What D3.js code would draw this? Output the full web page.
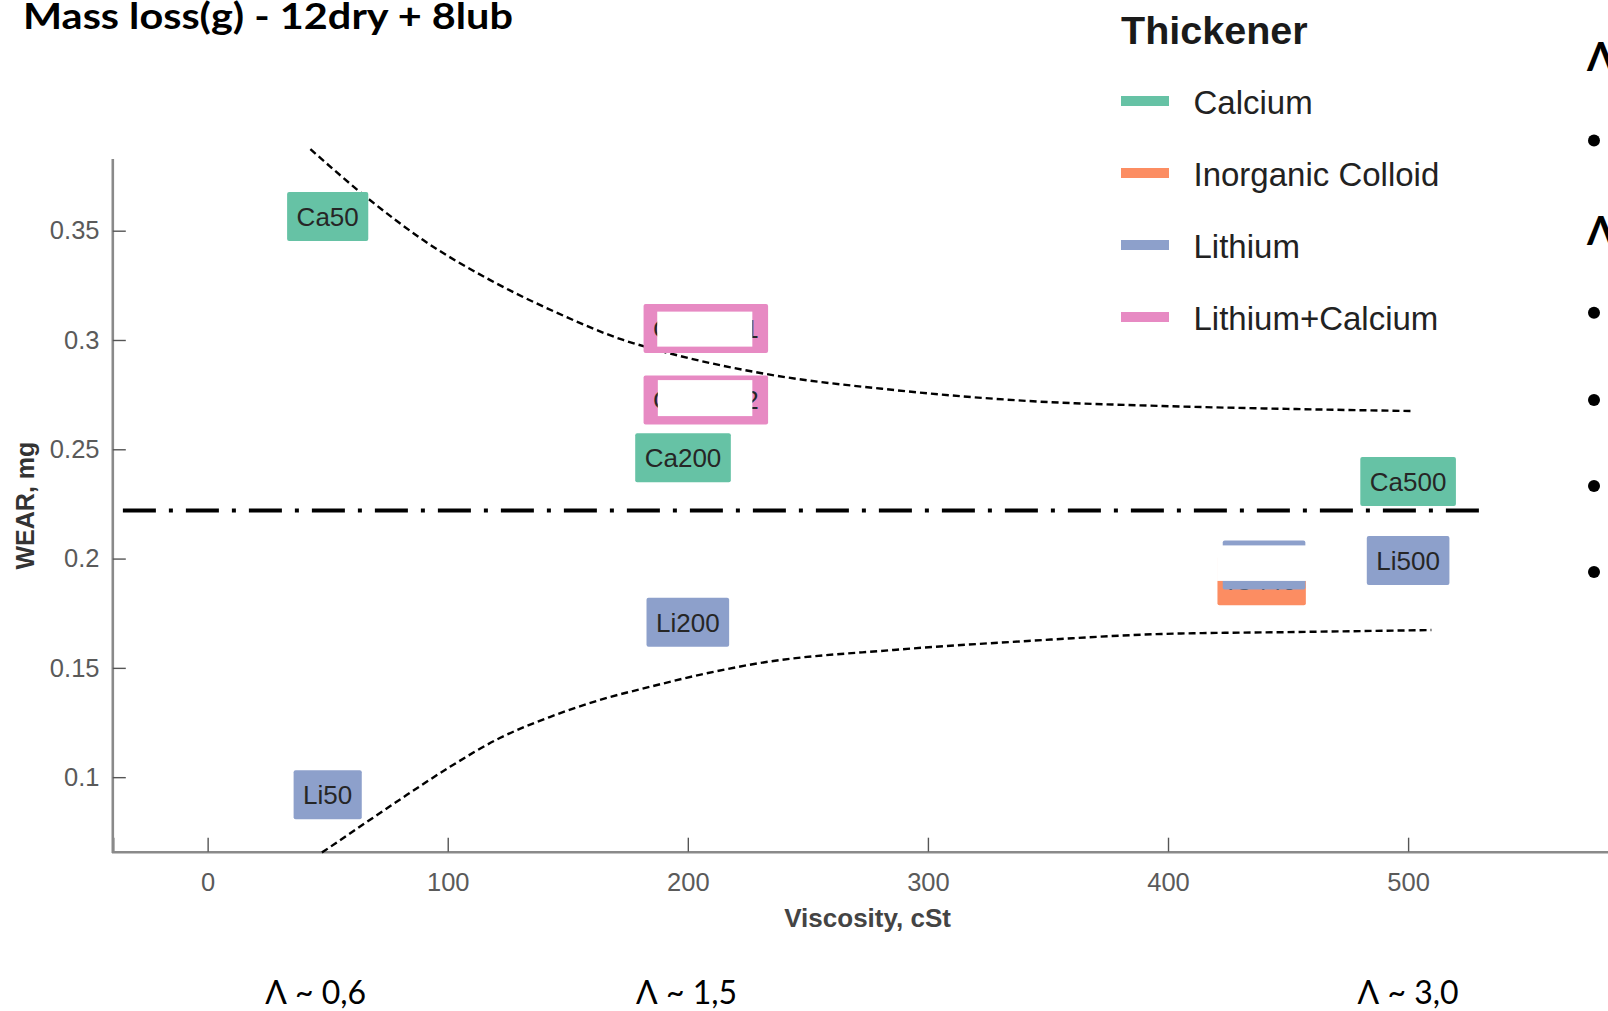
<!DOCTYPE html>
<html>
<head>
<meta charset="utf-8">
<script src="https://cdn.jsdelivr.net/npm/d3@7"></script>
<style>
  body { margin: 0; background: #fff; }
  svg { display: block; }
</style>
</head>
<body>
<svg id="chart" width="1608" height="1011"></svg>
<script>
// ---- data ----
const sampleNames = ["Ca50", "Li50", "CLi200-1", "CLi200-2", "Ca200", "Li200", "IC440", "Li440", "Ca500", "Li500"];
const sampleThickener = ["Calcium", "Lithium", "Lithium+Calcium", "Lithium+Calcium", "Calcium", "Lithium",
                         "Inorganic Colloid", "Lithium", "Calcium", "Lithium"];
const sampleViscosity = [50, 50, 207.5, 207.5, 198, 200, 439, 440, 500, 500];
const sampleWear = [0.3565, 0.092, 0.3052, 0.2725, 0.2461, 0.1709, 0.1898, 0.1971, 0.2353, 0.1991];

const thickeners = ["Calcium", "Inorganic Colloid", "Lithium", "Lithium+Calcium"];
const thickenerColors = ["#66c2a5", "#fc8d62", "#8da0cb", "#e78ac3"];

// upper and lower trend envelopes (viscosity, wear)
const upperVisc = [42.8, 66.5, 89.8, 117.7, 145.6, 173.1, 187.3, 230.2, 286.0, 341.7, 397.6, 453.4, 501.7];
const upperWear = [0.3873, 0.3650, 0.3457, 0.3274, 0.3124, 0.3000, 0.2954, 0.2849, 0.2771, 0.2721, 0.2698, 0.2684, 0.2675];
const lowerVisc = [47.6, 66.3, 83.0, 100.9, 121.7, 142.5, 163.3, 184.1, 204.9, 229.9, 285.7, 341.5, 397.3, 453.1, 509.7];
const lowerWear = [0.0655, 0.0795, 0.0919, 0.1047, 0.1179, 0.1275, 0.1353, 0.1413, 0.1468, 0.1522, 0.1582, 0.1623, 0.1655, 0.1664, 0.1673];

// reference wear level
const refWear = 0.222;
const refSpan = [-35.3, 534];

const xTicks = [0, 100, 200, 300, 400, 500];
const yTicks = [0.1, 0.15, 0.2, 0.25, 0.3, 0.35];
const yTickLabels = ["0.1", "0.15", "0.2", "0.25", "0.3", "0.35"];

const lambdaLabels = ["Λ ~ 0,6", "Λ ~ 1,5", "Λ ~ 3,0"];
const lambdaAt = [45, 199.5, 500];

// ---- layout ----
const svg = d3.select("#chart");
const x = d3.scaleLinear().domain([-39.5, 600]).range([112.8, 1648.2]);
const y = d3.scaleLinear().domain([0.0659, 0.3828]).range([851.7, 159]);
const color = d3.scaleOrdinal().domain(thickeners).range(thickenerColors);

const chartFont = "'Liberation Sans', Arial, Helvetica, sans-serif";
const slideFont = "Lato, 'Open Sans', sans-serif";

// title
svg.append("text")
  .attr("x", 23).attr("y", 29)
  .attr("font-family", slideFont).attr("font-weight", 700).attr("font-size", 36)
  .attr("textLength", 490).attr("lengthAdjust", "spacingAndGlyphs")
  .attr("fill", "#000")
  .text("Mass loss(g) - 12dry + 8lub");

// axes
const axisColor = "#8a8a8a";
const gx = svg.append("g").attr("transform", `translate(0,${y.range()[0]})`)
  .call(d3.axisBottom(x).tickValues(xTicks).tickSize(-14).tickPadding(21.5).tickFormat(d3.format("d")));
const gy = svg.append("g").attr("transform", `translate(${x.range()[0]},0)`)
  .call(d3.axisLeft(y).tickValues(yTicks).tickSize(-13).tickPadding(13.3).tickFormat((d, i) => yTickLabels[i]));
[gx, gy].forEach(g => {
  g.select(".domain").attr("stroke", axisColor).attr("stroke-width", 2.6);
  g.selectAll(".tick line").attr("stroke", "#555").attr("stroke-width", 1.4);
  g.selectAll(".tick text").attr("font-family", chartFont).attr("font-size", 25.5).attr("fill", "#5a5a5a");
});
// extend the y axis line down to meet the x axis line
gy.select(".domain").attr("d", `M0,${y.range()[1]}V${y.range()[0] + 1.3}`);

svg.append("text")
  .attr("x", 867.6).attr("y", 927)
  .attr("text-anchor", "middle")
  .attr("font-family", chartFont).attr("font-weight", 700).attr("font-size", 26)
  .attr("fill", "#444")
  .text("Viscosity, cSt");

svg.append("text")
  .attr("transform", "translate(34,505.6) rotate(-90)")
  .attr("text-anchor", "middle")
  .attr("font-family", chartFont).attr("font-weight", 700).attr("font-size", 25)
  .attr("fill", "#333")
  .text("WEAR, mg");

// reference dash-dot line
svg.append("line")
  .attr("x1", x(refSpan[0])).attr("x2", x(refSpan[1]))
  .attr("y1", y(refWear)).attr("y2", y(refWear))
  .attr("stroke", "#000").attr("stroke-width", 4.2)
  .attr("stroke-dasharray", "33 13 4 13");

// envelope curves
const line = d3.line().x(d => x(d[0])).y(d => y(d[1])).curve(d3.curveMonotoneX);
[[upperVisc, upperWear], [lowerVisc, lowerWear]].forEach(([vx, vy]) => {
  svg.append("path")
    .attr("d", line(vx.map((v, i) => [v, vy[i]])))
    .attr("fill", "none").attr("stroke", "#000")
    .attr("stroke-width", 2.4).attr("stroke-dasharray", "7 4");
});

// sample labels
const labels = svg.append("g").selectAll("g")
  .data(d3.range(sampleNames.length))
  .join("g")
  .attr("transform", i => `translate(${x(sampleViscosity[i])},${y(sampleWear[i])})`);
labels.each(function (i) {
  const g = d3.select(this);
  const box = g.append("rect");
  const t = g.append("text")
    .attr("text-anchor", "middle").attr("dy", "0.36em")
    .attr("font-family", chartFont).attr("font-size", 26).attr("fill", "#262626")
    .text(sampleNames[i]);
  const w = t.node().getComputedTextLength() + 19;
  box.attr("x", -w / 2).attr("y", -24.5).attr("width", w).attr("height", 49).attr("rx", 2)
    .attr("fill", color(sampleThickener[i]));
});

// white cover patches over some labels
const covers = [
  { name: "CLi200-1", dx: [-48.6, 46.5], dy: [-17, 18] },
  { name: "CLi200-2", dx: [-48, 46.5], dy: [-20, 16] },
  { name: "Li440", dx: [-47, 43], dy: [-19.5, 16] }
];
covers.forEach(c => {
  const i = sampleNames.indexOf(c.name);
  const cx = x(sampleViscosity[i]), cy = y(sampleWear[i]);
  svg.append("rect")
    .attr("x", cx + c.dx[0]).attr("y", cy + c.dy[0])
    .attr("width", c.dx[1] - c.dx[0]).attr("height", c.dy[1] - c.dy[0])
    .attr("fill", "#fff");
});

// legend
const legend = svg.append("g").attr("transform", "translate(1121,0)");
legend.append("text")
  .attr("x", 0).attr("y", 44)
  .attr("font-family", chartFont).attr("font-weight", 700).attr("font-size", 39.5).attr("fill", "#1a1a1a")
  .text("Thickener");
thickeners.forEach((name, i) => {
  const cy = 101 + i * 72;
  legend.append("rect").attr("x", 0).attr("y", cy - 5).attr("width", 48).attr("height", 10)
    .attr("fill", thickenerColors[i]);
  legend.append("text").attr("x", 72.5).attr("y", cy + 13)
    .attr("font-family", chartFont).attr("font-size", 33).attr("fill", "#222")
    .text(name);
});

// lambda annotations below the axis
lambdaLabels.forEach((s, i) => {
  svg.append("text")
    .attr("x", x(lambdaAt[i])).attr("y", 1004)
    .attr("text-anchor", "middle")
    .attr("font-family", slideFont).attr("font-size", 32).attr("fill", "#000")
    .attr("textLength", 101).attr("lengthAdjust", "spacingAndGlyphs")
    .text(s);
});

// side notes (continue past the right edge)
[71, 245].forEach(b => {
  svg.append("text").attr("x", 1587).attr("y", b)
    .attr("font-family", slideFont).attr("font-weight", 700).attr("font-size", 40).attr("fill", "#000")
    .text("Λ");
});
[140.5, 312.8, 400, 486, 572].forEach(c => {
  svg.append("circle").attr("cx", 1594).attr("cy", c).attr("r", 6).attr("fill", "#000");
});
</script>
</body>
</html>
